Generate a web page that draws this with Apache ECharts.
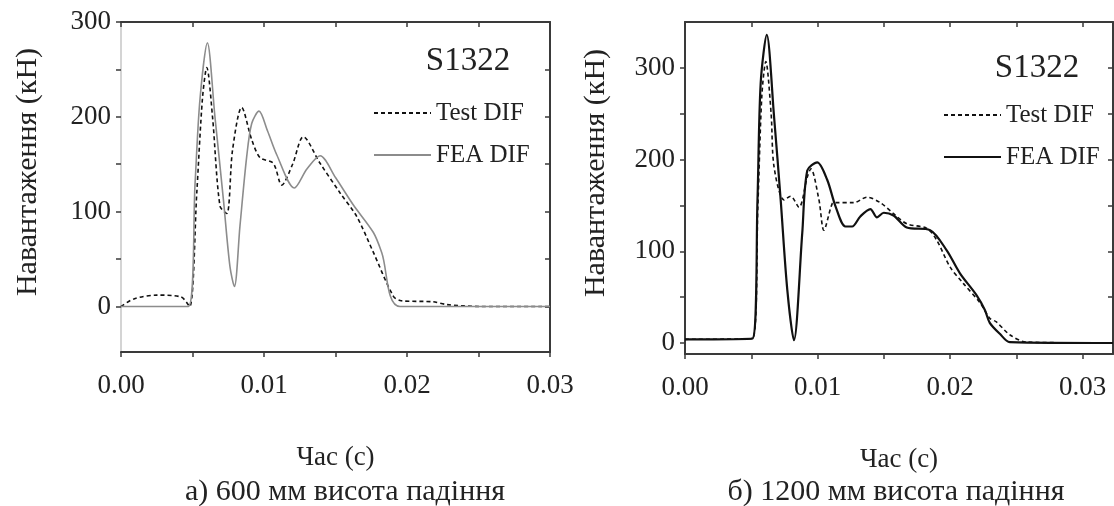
<!DOCTYPE html>
<html>
<head>
<meta charset="utf-8">
<title>S1322</title>
<script src="https://cdn.jsdelivr.net/npm/echarts@6/dist/echarts.min.js"></script>
<style>
  html, body { margin: 0; padding: 0; background: #fff; }
  .wrap { position: relative; width: 1114px; height: 506px; overflow: hidden; }
  .panel { position: absolute; top: 0; height: 506px; }
</style>
</head>
<body>
<div class="wrap">
  <!-- the left panel is wider so its last tick label is not cut off; both canvases are transparent -->
  <div id="chart600" class="panel" style="left:0;width:620px"></div>
  <div id="chart1200" class="panel" style="left:557px;width:557px"></div>
</div>
<script>
const seriesNames = ['Test DIF', 'FEA DIF']
const specimen = 'S1322'
const xLabelValues = [0, 0.01, 0.02, 0.03]
const xTickValues = [0, 0.005, 0.01, 0.015, 0.02, 0.025, 0.03]
const yLabelValues = [0, 100, 200, 300]
const yTickValues = [0, 50, 100, 150, 200, 250, 300]

// а) 600 мм висота падіння
const testTime600 = [0, 0.0009, 0.0025, 0.0042, 0.0048, 0.0053, 0.0057, 0.0060, 0.0064, 0.00692, 0.0074, 0.0078, 0.00844, 0.00914, 0.00972, 0.01065, 0.01124, 0.0120, 0.01275, 0.01392, 0.01531, 0.01648, 0.01765, 0.01904, 0.0196, 0.0218, 0.0228, 0.0251, 0.03]
const testLoad600 = [0, 8, 12, 10, 0, 120, 220, 252, 200, 106, 98, 165, 210, 176, 157, 151, 128, 150, 179, 151, 120, 95, 57, 11, 6, 5, 2, 0, 0]
const feaTime600 = [0, 0.0047, 0.00518, 0.00552, 0.00604, 0.00657, 0.00716, 0.00762, 0.00793, 0.00832, 0.00879, 0.00914, 0.00965, 0.01025, 0.01089, 0.01212, 0.0130, 0.01392, 0.0150, 0.01625, 0.01765, 0.01823, 0.01951, 0.03]
const feaLoad600 = [0, 0, 130, 218, 278, 200, 113, 42, 21, 85, 158, 193, 206, 185, 160, 125, 145, 159, 136, 107, 78, 57, 0, 0]

// б) 1200 мм висота падіння
const testTime1200 = [0, 0.0051, 0.0055, 0.0058, 0.0061, 0.0065, 0.00672, 0.00747, 0.00797, 0.0086, 0.00923, 0.0095, 0.01011, 0.01048, 0.01111, 0.01136, 0.01274, 0.01373, 0.01474, 0.01574, 0.01674, 0.01825, 0.019, 0.02, 0.021, 0.02226, 0.023, 0.0235, 0.02451, 0.02576, 0.0323]
const testLoad1200 = [4, 5, 150, 270, 307, 250, 192, 156, 160, 148, 181, 190, 156, 123, 152, 153, 153, 159, 153, 141, 130, 125, 112, 83, 65, 44, 27, 23, 9, 1, 0]
const feaTime1200 = [0, 0.0051, 0.00547, 0.00571, 0.00617, 0.00672, 0.00722, 0.00772, 0.00822, 0.00885, 0.00923, 0.00998, 0.01073, 0.01136, 0.01211, 0.01261, 0.01323, 0.01399, 0.01449, 0.0150, 0.01574, 0.01674, 0.0185, 0.01975, 0.02075, 0.02201, 0.02263, 0.0230, 0.02376, 0.02451, 0.0323]
const feaLoad1200 = [4, 5, 156, 283, 336, 247, 156, 58, 3, 120, 188, 197, 178, 149, 127, 127, 138, 146, 137, 142, 139, 126, 123, 101, 76, 52, 36, 22, 10, 1, 0]

const font = "'Liberation Serif', 'Times New Roman', serif"
const ink = '#222'
const frame = '#3a3a3a'

function pairs (t, v) {
  return t.map((x, i) => [x, v[i]])
}

// top / right frame lines with inward ticks, no labels
function mirrorAxis (pos, min, max, ticks) {
  return {
    type: 'value',
    position: pos,
    min: min,
    max: max,
    axisLine: { show: true, onZero: false, lineStyle: { color: frame, width: 2 } },
    axisTick: { show: true, inside: true, length: 5, customValues: ticks, lineStyle: { color: frame, width: 1.5 } },
    axisLabel: { show: false },
    splitLine: { show: false }
  }
}

function buildOption (p) {
  const textStyle = { fontFamily: font, color: ink }
  return {
    animation: false,
    backgroundColor: 'transparent',
    grid: { left: p.gridLeft, top: 22, width: p.gridWidth, height: p.gridHeight, outerBoundsMode: 'none' },
    xAxis: [{
      type: 'value',
      position: 'bottom',
      min: 0,
      max: p.xMax,
      name: 'Час (с)',
      nameLocation: 'middle',
      nameGap: 92,
      nameTextStyle: { ...textStyle, fontSize: 27 },
      axisLine: { onZero: false, lineStyle: { color: frame, width: 2 } },
      axisTick: { customValues: xTickValues, length: 5, lineStyle: { color: frame, width: 1.5 } },
      axisLabel: { ...textStyle, customValues: xLabelValues, fontSize: 27, margin: 20, formatter: v => v.toFixed(2) },
      splitLine: { show: false }
    }, mirrorAxis('top', 0, p.xMax, xTickValues)],
    yAxis: [{
      type: 'value',
      position: 'left',
      min: p.yMin,
      max: p.yMax,
      name: 'Навантаження (кН)',
      nameLocation: 'middle',
      nameGap: p.yNameGap,
      nameTextStyle: { ...textStyle, fontSize: 30, padding: [0, 0, 0, 30] },
      axisLine: { show: true, onZero: false, lineStyle: { color: p.leftLine, width: 2 } },
      axisTick: { show: true, customValues: yTickValues, length: 5, lineStyle: { color: frame, width: 1.5 } },
      axisLabel: { ...textStyle, customValues: yLabelValues, fontSize: 27, margin: 10 },
      splitLine: { show: false }
    }, mirrorAxis('right', p.yMin, p.yMax, yTickValues)],
    legend: {
      orient: 'vertical',
      left: p.legendLeft,
      top: p.legendTop,
      itemWidth: 57,
      itemHeight: 14,
      itemGap: 12,
      selectedMode: false,
      itemStyle: { opacity: 0 },
      textStyle: { ...textStyle, fontSize: 25, lineHeight: 30 },
      data: seriesNames
    },
    graphic: [{
      type: 'text',
      x: p.tagX,
      y: p.tagY,
      style: { text: specimen, font: '33px ' + font, fill: ink, align: 'center', verticalAlign: 'middle' }
    }, {
      type: 'text',
      x: p.captionX,
      y: 492,
      style: { text: p.caption, font: '30px ' + font, fill: ink, align: 'center', verticalAlign: 'middle' }
    }],
    series: [{
      name: seriesNames[0],
      type: 'line',
      data: pairs(p.testTime, p.testLoad),
      symbol: 'none',
      smooth: 0.3,
      lineStyle: { color: '#111', width: 1.6, type: [4, 3] },
      itemStyle: { color: '#111' }
    }, {
      name: seriesNames[1],
      type: 'line',
      data: pairs(p.feaTime, p.feaLoad),
      symbol: 'none',
      smooth: 0.3,
      lineStyle: { color: p.feaColor, width: p.feaWidth },
      itemStyle: { color: p.feaColor }
    }]
  }
}

const chart600 = echarts.init(document.getElementById('chart600'))
chart600.setOption(buildOption({
  gridLeft: 121, gridWidth: 429, gridHeight: 330,
  xMax: 0.03, yMin: -48, yMax: 300, yNameGap: 78,
  leftLine: '#d4d4d4',
  legendLeft: 368, legendTop: 93,
  tagX: 468, tagY: 61,
  captionX: 345, caption: 'а) 600 мм висота падіння',
  testTime: testTime600, testLoad: testLoad600,
  feaTime: feaTime600, feaLoad: feaLoad600,
  feaColor: '#8c8c8c', feaWidth: 1.6
}))

const chart1200 = echarts.init(document.getElementById('chart1200'))
chart1200.setOption(buildOption({
  gridLeft: 128, gridWidth: 428, gridHeight: 332,
  xMax: 0.0323, yMin: -12, yMax: 350, yNameGap: 74,
  leftLine: frame,
  legendLeft: 381, legendTop: 95,
  tagX: 480, tagY: 68,
  captionX: 339, caption: 'б) 1200 мм висота падіння',
  testTime: testTime1200, testLoad: testLoad1200,
  feaTime: feaTime1200, feaLoad: feaLoad1200,
  feaColor: '#111', feaWidth: 2.2
}))
</script>
</body>
</html>
